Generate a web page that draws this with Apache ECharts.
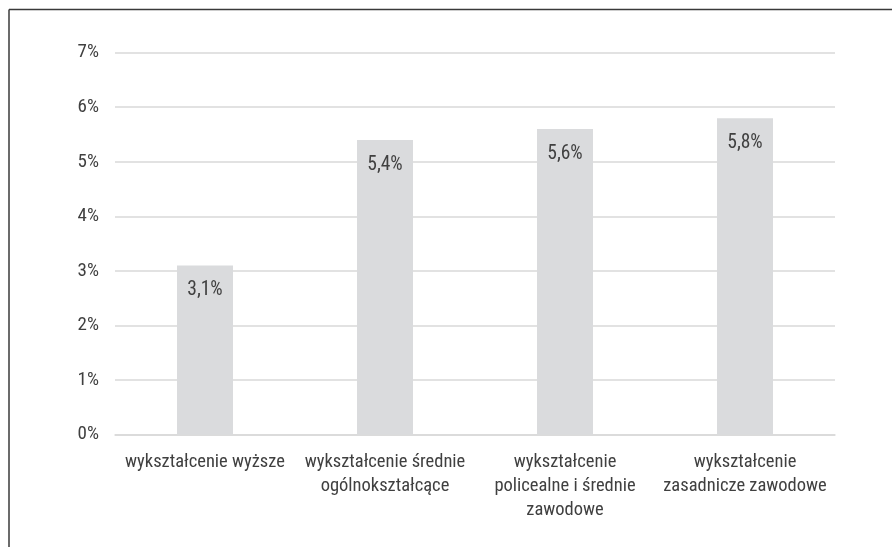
<!DOCTYPE html>
<html><head><meta charset="utf-8">
<script src="https://cdn.jsdelivr.net/npm/echarts@6/dist/echarts.min.js"></script>
<style>html,body{margin:0;padding:0;background:#fff}#c{width:892px;height:547px}</style>
</head><body><div id="c"></div>
<script>
const categories = [
  "wykształcenie wyższe",
  "wykształcenie średnie\nogólnokształcące",
  "wykształcenie\npolicealne i średnie\nzawodowe",
  "wykształcenie\nzasadnicze zawodowe"
];
const values = [3.1, 5.4, 5.6, 5.8];
const yTicks = [0, 1, 2, 3, 4, 5, 6, 7];

const FONT = '"Liberation Sans Narrow", "Roboto Condensed", "Liberation Sans", sans-serif';
const TXT = '#404040';
const chart = echarts.init(document.getElementById('c'), null, {renderer: 'canvas'});
chart.setOption({
  animation: false,
  backgroundColor: '#fff',
  grid: {left: 115, right: 57, top: 52.7, bottom: 112.5, containLabel: false},
  xAxis: {
    type: 'category', data: categories,
    axisLine: {lineStyle: {color: '#d9d9d9', width: 1.5}},
    axisTick: {show: false},
    axisLabel: {color: TXT, fontFamily: FONT, fontSize: 18.5, lineHeight: 24, margin: 16, interval: 0}
  },
  yAxis: {
    type: 'value', min: yTicks[0], max: yTicks[yTicks.length - 1], interval: 1,
    axisLine: {show: false}, axisTick: {show: false},
    splitLine: {lineStyle: {color: '#d9d9d9', width: 1.5}},
    axisLabel: {color: TXT, fontFamily: FONT, fontSize: 19, margin: 16, formatter: v => v + '%'}
  },
  series: [{
    type: 'bar', data: values, barWidth: 56,
    itemStyle: {color: '#dadbdd'},
    label: {show: true, position: 'insideTop', distance: 15, color: TXT, fontFamily: FONT, fontSize: 19.5,
      formatter: p => String(p.value).replace('.', ',') + '%'}
  }],
  graphic: [
    {type: 'line', shape: {x1: 9, y1: 9.5, x2: 892, y2: 9.5}, style: {stroke: '#3a3a3a', lineWidth: 1.5}},
    {type: 'line', shape: {x1: 9, y1: 9.5, x2: 9, y2: 547}, style: {stroke: '#3a3a3a', lineWidth: 1.5}}
  ]
});
</script></body></html>
